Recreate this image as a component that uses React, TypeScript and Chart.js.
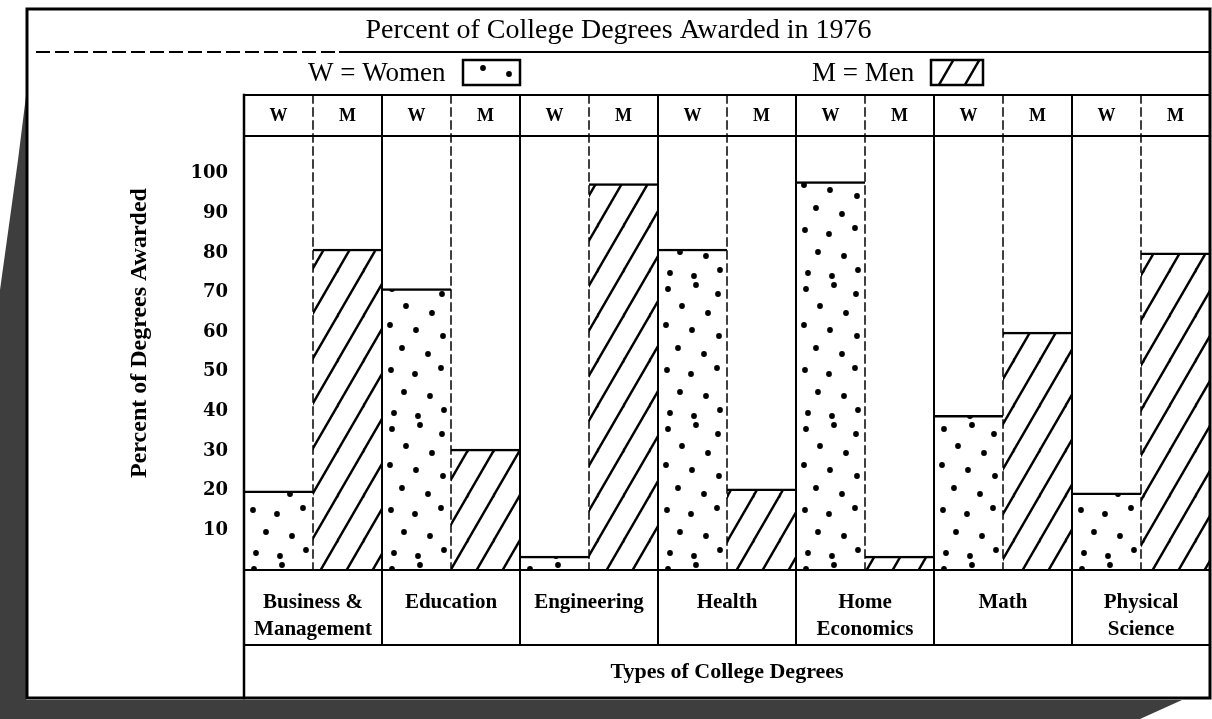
import React, { useEffect, useRef } from 'react';
import { Chart, registerables } from 'chart.js';

Chart.register(...registerables);

const TITLE = 'Percent of College Degrees Awarded in 1976';
const CATEGORIES: (string | string[])[] = [
  ['Business &', 'Management'],
  'Education',
  'Engineering',
  'Health',
  ['Home', 'Economics'],
  'Math',
  ['Physical', 'Science'],
];
const WOMEN = [20, 71, 3.5, 81, 98, 39, 19.5];
const MEN = [81, 30.5, 97.5, 20.5, 3.5, 60, 80];
const Y_TICKS = [10, 20, 30, 40, 50, 60, 70, 80, 90, 100];
const Y_MAX = 109.5;
const SERIES_KEYS = ['W', 'M'];
const LEGEND_LABELS = ['W = Women', 'M = Men'];
const X_TITLE = 'Types of College Degrees';
const Y_TITLE = 'Percent of Degrees Awarded';

const SERIF = '"Liberation Serif", "Times New Roman", serif';

function makeDots(offsetX: number): CanvasPattern {
  const c = document.createElement('canvas');
  c.width = 69;
  c.height = 140;
  const g = c.getContext('2d')!;
  g.fillStyle = '#fff';
  g.fillRect(0, 0, c.width, c.height);
  g.fillStyle = '#000';
  const pts = [
    [10, 9], [38, 5], [60, 14], [24, 26], [50, 33], [8, 45], [34, 50],
    [61, 56], [20, 68], [46, 74], [9, 90], [33, 94], [59, 88], [22, 112],
    [48, 116], [62, 130], [12, 133], [36, 136],
  ];
  pts.forEach(([x, y]) => {
    g.beginPath();
    g.arc(x, y, 2.9, 0, Math.PI * 2);
    g.fill();
  });
  const p = g.createPattern(c, 'repeat')!;
  p.setTransform(new DOMMatrix([1, 0, 0, 1, offsetX, 0]));
  return p;
}

function makeHatch(): CanvasPattern {
  const P = 26;
  const Q = 45;
  const c = document.createElement('canvas');
  c.width = P;
  c.height = Q;
  const g = c.getContext('2d')!;
  g.fillStyle = '#fff';
  g.fillRect(0, 0, P, Q);
  g.strokeStyle = '#000';
  g.lineWidth = 2.4;
  const shifts = [[0, 0], [P, 0], [-P, 0], [0, Q], [0, -Q]];
  shifts.forEach(([dx, dy]) => {
    g.beginPath();
    g.moveTo(dx - P * 0.2, dy + Q * 1.2);
    g.lineTo(dx + P * 1.2, dy - Q * 0.2);
    g.stroke();
  });
  return g.createPattern(c, 'repeat')!;
}

export default function App() {
  const ref = useRef<HTMLCanvasElement>(null);

  useEffect(() => {
    const canvas = ref.current!;
    const dots = makeDots(244);
    const legendDots = makeDots(463);
    const hatch = makeHatch();
    const patterns = [legendDots, hatch];

    const framePlugin = {
      id: 'framePlugin',
      beforeDraw(chart: any) {
        const ctx = chart.ctx as CanvasRenderingContext2D;
        ctx.save();
        ctx.fillStyle = '#fff';
        ctx.fillRect(0, 0, chart.width, chart.height);
        ctx.fillStyle = '#3e3e3e';
        ctx.beginPath();
        ctx.moveTo(0, 700);
        ctx.lineTo(1182, 700);
        ctx.lineTo(1140, 719);
        ctx.lineTo(0, 719);
        ctx.closePath();
        ctx.fill();
        ctx.beginPath();
        ctx.moveTo(26, 96);
        ctx.lineTo(26, 719);
        ctx.lineTo(0, 719);
        ctx.lineTo(0, 290);
        ctx.lineTo(18, 160);
        ctx.closePath();
        ctx.fill();
        ctx.restore();
      },
      afterDraw(chart: any) {
        const ctx = chart.ctx as CanvasRenderingContext2D;
        const a = chart.chartArea;
        const n = CATEGORIES.length;
        const cw = (a.right - a.left) / n;
        const tableTop = 95;
        const labelBottom = 645;
        const frameL = 27;
        const frameT = 9;
        const frameB = 698;
        const frameR = a.right;

        ctx.save();
        ctx.strokeStyle = '#000';
        ctx.lineCap = 'square';

        // outer frame
        ctx.lineWidth = 3;
        ctx.strokeRect(frameL, frameT, frameR - frameL, frameB - frameT);

        // title separator
        ctx.lineWidth = 2;
        ctx.setLineDash([12, 7]);
        ctx.beginPath();
        ctx.moveTo(frameL + 10, 52);
        ctx.lineTo(340, 52);
        ctx.stroke();
        ctx.setLineDash([]);
        ctx.beginPath();
        ctx.moveTo(340, 52);
        ctx.lineTo(frameR, 52);
        ctx.stroke();

        // table horizontal lines
        ctx.lineWidth = 2;
        [tableTop, a.top, a.bottom, labelBottom].forEach((y) => {
          ctx.beginPath();
          ctx.moveTo(a.left, y);
          ctx.lineTo(a.right, y);
          ctx.stroke();
        });
        // table left
        ctx.lineWidth = 2.5;
        ctx.beginPath();
        ctx.moveTo(a.left, tableTop);
        ctx.lineTo(a.left, frameB);
        ctx.stroke();

        // category boundaries
        ctx.lineWidth = 2;
        for (let i = 1; i < n; i++) {
          const x = a.left + i * cw;
          ctx.beginPath();
          ctx.moveTo(x, tableTop);
          ctx.lineTo(x, labelBottom);
          ctx.stroke();
        }
        // W / M dividers
        ctx.lineWidth = 1.5;
        ctx.setLineDash([8, 5]);
        for (let i = 0; i < n; i++) {
          const x = a.left + (i + 0.5) * cw;
          ctx.beginPath();
          ctx.moveTo(x, tableTop);
          ctx.lineTo(x, a.bottom);
          ctx.stroke();
        }
        ctx.setLineDash([]);

        // texts
        ctx.fillStyle = '#000';
        ctx.textAlign = 'center';
        ctx.textBaseline = 'middle';
        ctx.font = `28px ${SERIF}`;
        ctx.fillText(TITLE, (frameL + frameR) / 2, 31);

        // header W/M
        ctx.font = `bold 18px ${SERIF}`;
        for (let i = 0; i < n; i++) {
          SERIES_KEYS.forEach((k, j) => {
            ctx.fillText(k, a.left + (i + 0.25 + j * 0.5) * cw, 116);
          });
        }

        // legend
        ctx.font = `27px ${SERIF}`;
        ctx.textAlign = 'left';
        const legendItems = [
          { text: LEGEND_LABELS[0], tx: 308, bx: 463, bw: 57 },
          { text: LEGEND_LABELS[1], tx: 812, bx: 931, bw: 52 },
        ];
        legendItems.forEach((it, k) => {
          ctx.fillText(it.text, it.tx, 74);
          ctx.fillStyle = patterns[k];
          ctx.fillRect(it.bx, 60, it.bw, 25);
          ctx.fillStyle = '#000';
          ctx.lineWidth = 2.5;
          ctx.strokeRect(it.bx, 60, it.bw, 25);
        });

        // x title
        ctx.textAlign = 'center';
        ctx.font = `bold 22px ${SERIF}`;
        ctx.fillText(X_TITLE, (a.left + a.right) / 2, 672);

        // y title
        ctx.save();
        ctx.translate(140, 333);
        ctx.rotate(-Math.PI / 2);
        ctx.font = `bold 24px ${SERIF}`;
        ctx.fillText(Y_TITLE, 0, 0);
        ctx.restore();

        ctx.restore();
      },
    };

    const chart = new Chart(canvas, {
      type: 'bar',
      data: {
        labels: CATEGORIES as any,
        datasets: [
          {
            label: LEGEND_LABELS[0],
            data: WOMEN,
            backgroundColor: dots,
            borderColor: '#000',
            borderWidth: { top: 2.5, left: 0, right: 0, bottom: 0 },
            borderSkipped: false,
            categoryPercentage: 1,
            barPercentage: 1,
          },
          {
            label: LEGEND_LABELS[1],
            data: MEN,
            backgroundColor: hatch,
            borderColor: '#000',
            borderWidth: { top: 2.5, left: 0, right: 0, bottom: 0 },
            borderSkipped: false,
            categoryPercentage: 1,
            barPercentage: 1,
          },
        ],
      },
      options: {
        responsive: true,
        maintainAspectRatio: false,
        animation: false,
        devicePixelRatio: 1,
        layout: { padding: { top: 136, right: 2, bottom: 0, left: 0 } },
        plugins: {
          legend: { display: false },
          title: { display: false },
          tooltip: { enabled: false },
        },
        scales: {
          x: {
            type: 'category',
            offset: true,
            grid: { display: false, drawTicks: false },
            border: { display: false },
            ticks: {
              color: '#000',
              font: { family: SERIF, size: 21, weight: 'bold', lineHeight: 1.3 },
              padding: 19,
              maxRotation: 0,
              autoSkip: false,
            },
            afterFit: (s: any) => {
              s.height = 149;
            },
          },
          y: {
            min: 0,
            max: Y_MAX,
            grid: { display: false, drawTicks: false },
            border: { display: false },
            afterBuildTicks: (s: any) => {
              s.ticks = Y_TICKS.map((v) => ({ value: v }));
            },
            ticks: {
              color: '#000',
              font: { family: '"DejaVu Serif", serif', size: 18, weight: 'bold' },
              padding: 16,
            },
            afterFit: (s: any) => {
              s.width = 244;
            },
          },
        },
      } as any,
      plugins: [framePlugin],
    });

    return () => chart.destroy();
  }, []);

  return (
    <div style={{ position: 'fixed', left: 0, top: 0, width: 1212, height: 719, background: '#fff' }}>
      <canvas ref={ref} />
    </div>
  );
}
